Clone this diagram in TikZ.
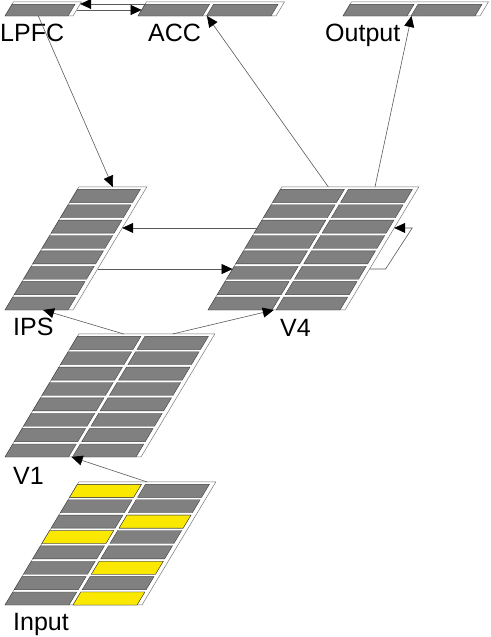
\documentclass[tikz,border=0pt]{standalone}
\usepackage{fontspec}
\setmainfont{Liberation Sans}
\usetikzlibrary{arrows.meta,calc}
\definecolor{bargray}{RGB}{128,128,128}
\definecolor{inyellow}{RGB}{250,232,0}

\begin{document}
\begin{tikzpicture}[x=1pt, y=1pt,
    sheet/.style={draw=black!55, fill=white, line width=0.5pt},
    bar/.style={draw=black!75, fill=bargray, line width=0.4pt},
    activebar/.style={draw=black!75, fill=inyellow, line width=0.4pt},
    conn/.style={draw=black!65, line width=0.6pt, -{Triangle[length=11pt, width=10pt, color=black]}},
    layername/.style={font=\fontsize{25}{30}\selectfont, inner sep=0pt, anchor=base west}
]
\useasboundingbox (0,0) rectangle (490,637);

% STRATI
\foreach \lay/\xo/\yo/\w/\h/\rows/\cols in {LPFC/5/621/68/14/1/1, ACC/138/621/138/14/1/2,
        Output/343/621/137/14/1/2, IPS/5/327/68/123/8/1, V4/208/327/137/123/8/2,
        V1/5/180/136/123/8/2, Input/5/32/137/123/8/2} {
    \begin{scope}[shift={(\xo,\yo)}, xslant=0.6]
        \pgfmathsetmacro\cw{(\w-5-4*(\cols-1))/\cols}
        \pgfmathsetmacro\rh{\h/\rows}
        \pgfmathtruncatemacro\lastrow{\rows-1}
        \pgfmathtruncatemacro\lastcol{\cols-1}
        \draw[sheet] (0,0) rectangle (\w,\h);
        \foreach \r in {0,...,\lastrow} {
            \foreach \c in {0,...,\lastcol} {
                \draw[bar] ({\c*(\cw+4)},{\r*\rh}) rectangle ++({\cw},{\rh-2.4});
            }
        }
        \coordinate (\lay-bl) at (0,0);
        \coordinate (\lay-br) at (\w,0);
        \coordinate (\lay-tl) at (0,\h);
        \coordinate (\lay-tr) at (\w,\h);
    \end{scope}
}

% INGRESSO ATTIVO
\begin{scope}[shift={(5,32)}, xslant=0.6]
    \foreach \c/\r in {0/7, 0/4, 1/5, 1/2, 1/0} {
        \draw[activebar] ({\c*68},{\r*15.375}) rectangle ++(64,12.975);
    }
\end{scope}

% NOMI
\node[layername] (LPFC-lab) at (0,595) {LPFC};
\node[layername] (ACC-lab) at (148,595) {ACC};
\node[layername] (Output-lab) at (325,595) {Output};
\node[layername] (IPS-lab) at (13,301) {IPS};
\node[layername] (V4-lab) at (280,300) {V4};
\node[layername] (V1-lab) at (13,152) {V1};
\node[layername] (Input-lab) at (13,6) {Input};

% CONNESSIONI
\draw[conn] ($(ACC-bl)!0.857!(ACC-tl)$) -- ($(LPFC-br)!0.857!(LPFC-tr)$);
\draw[conn] ($(LPFC-br)!0.43!(LPFC-tr)$) -- ($(ACC-bl)!0.43!(ACC-tl)$);
\draw[conn] ($(LPFC-bl)!0.49!(LPFC-br)$) -- ($(IPS-tl)!0.5!(IPS-tr)$);
\draw[conn] ($(V4-tl)!0.34!(V4-tr)$) -- ($(ACC-bl)!0.5!(ACC-br)$);
\draw[conn] ($(V4-tl)!0.68!(V4-tr)$) -- ($(Output-bl)!0.5!(Output-br)$);
\draw[conn] ($(V4-bl)!0.667!(V4-tl)$) -- ($(IPS-br)!0.667!(IPS-tr)$);
\draw[conn] ($(IPS-br)!0.333!(IPS-tr)$) -- ($(V4-bl)!0.333!(V4-tl)$);
\draw[conn] ($(V4-br)!0.333!(V4-tr)$) -- ++(16,0)
    -- ([xshift=18pt]$(V4-br)!0.667!(V4-tr)$) -- ($(V4-br)!0.667!(V4-tr)$);
\draw[conn] ($(V1-tl)!0.33!(V1-tr)$) -- ($(IPS-bl)!0.56!(IPS-br)$);
\draw[conn] ($(V1-tl)!0.69!(V1-tr)$) -- ($(V4-bl)!0.48!(V4-br)$);
\draw[conn] ($(Input-tl)!0.5!(Input-tr)$) -- ($(V1-bl)!0.49!(V1-br)$);

\end{tikzpicture}
\end{document}
